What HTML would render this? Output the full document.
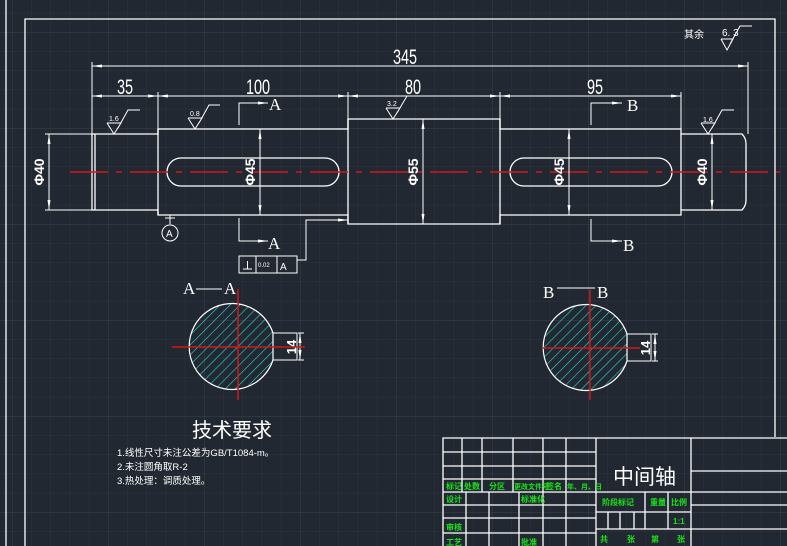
<!DOCTYPE html>
<html><head><meta charset="utf-8">
<style>
html,body{margin:0;padding:0;background:#222831;}
svg{display:block;}
text{font-family:"Liberation Sans","Noto Sans CJK SC",sans-serif;}
.g{fill:#19e619;font-size:8px;font-weight:bold;}
</style></head><body>
<svg width="787" height="546" viewBox="0 0 787 546" xmlns="http://www.w3.org/2000/svg">
<defs>
<pattern id="minor" x="12" y="32" width="19.2" height="19.2" patternUnits="userSpaceOnUse">
<path d="M0 0V19.2M0 0H19.2" stroke="#2c3440" stroke-width="1" fill="none"/>
</pattern>
<pattern id="major" x="12" y="32" width="96" height="96" patternUnits="userSpaceOnUse">
<path d="M0 0V96M0 0H96" stroke="#3a4250" stroke-width="1" fill="none"/>
</pattern>
<pattern id="hatch" width="7" height="7" patternUnits="userSpaceOnUse" patternTransform="rotate(45)">
<line x1="0" y1="0" x2="0" y2="7" stroke="#2ad6d6" stroke-width="1.2"/>
</pattern>
<marker id="ar" markerWidth="10" markerHeight="6" refX="10" refY="3" orient="auto-start-reverse" markerUnits="userSpaceOnUse">
<path d="M0 1.5L10 3L0 4.5Z" fill="#fff"/>
</marker>
</defs>
<rect width="787" height="546" fill="#222831"/>
<rect width="787" height="546" fill="url(#minor)"/>
<rect width="787" height="546" fill="url(#major)"/>

<g stroke="#fff" fill="none" stroke-width="1.3">
<line x1="6" y1="0" x2="6" y2="546"/>
<path d="M25 546V19H775V437"/>
<path d="M92 134H158V129H348V119H500V129H681V134H742Q746 138 746 144V200Q746 206 742 210H681V215H500V224H348V215H158V210H92Z"/>
<line x1="95" y1="134" x2="95" y2="210"/>
<line x1="158" y1="129" x2="158" y2="215"/>
<line x1="681" y1="134" x2="681" y2="210"/>
<line x1="500" y1="119" x2="500" y2="224"/>
<line x1="348" y1="119" x2="348" y2="224"/>
<rect x="167" y="158" width="172" height="28" rx="14"/>
<rect x="510" y="158" width="162" height="28" rx="14"/>
</g>
<line x1="70" y1="172" x2="780" y2="172" stroke="#d01818" stroke-width="1.5" stroke-dasharray="38 8 6 8"/>

<g stroke="#fff" stroke-width="1" fill="none">
<line x1="92" y1="62" x2="92" y2="134"/>
<line x1="748" y1="62" x2="748" y2="134"/>
<line x1="158" y1="92" x2="158" y2="129"/>
<line x1="348" y1="92" x2="348" y2="119"/>
<line x1="500" y1="92" x2="500" y2="119"/>
<line x1="681" y1="92" x2="681" y2="134"/>
<line x1="92" y1="66" x2="748" y2="66" marker-start="url(#ar)" marker-end="url(#ar)"/>
<line x1="92" y1="96" x2="158" y2="96" marker-start="url(#ar)" marker-end="url(#ar)"/>
<line x1="158" y1="96" x2="348" y2="96" marker-start="url(#ar)" marker-end="url(#ar)"/>
<line x1="348" y1="96" x2="500" y2="96" marker-start="url(#ar)" marker-end="url(#ar)"/>
<line x1="500" y1="96" x2="681" y2="96" marker-start="url(#ar)" marker-end="url(#ar)"/>
<line x1="45" y1="134" x2="92" y2="134"/><line x1="45" y1="210" x2="92" y2="210"/>
<line x1="49" y1="134" x2="49" y2="210" marker-start="url(#ar)" marker-end="url(#ar)"/>
<line x1="260" y1="129" x2="260" y2="215" marker-start="url(#ar)" marker-end="url(#ar)"/>
<line x1="423" y1="119" x2="423" y2="224" marker-start="url(#ar)" marker-end="url(#ar)"/>
<line x1="569" y1="129" x2="569" y2="215" marker-start="url(#ar)" marker-end="url(#ar)"/>
<line x1="712" y1="134" x2="712" y2="210" marker-start="url(#ar)" marker-end="url(#ar)"/>
<path d="M239 125V103H268" marker-end="url(#ar)"/>
<path d="M239 218V241H268" marker-end="url(#ar)"/>
<path d="M591 125V103H622" marker-end="url(#ar)"/>
<path d="M591 219V241H622" marker-end="url(#ar)"/>
<line x1="170" y1="215" x2="170" y2="224"/><line x1="165" y1="218" x2="175" y2="218"/>
<circle cx="170" cy="233" r="8"/>
<rect x="239" y="256" width="58" height="17"/>
<line x1="256" y1="256" x2="256" y2="273"/><line x1="277" y1="256" x2="277" y2="273"/>
<path d="M297 260H306V220H348" marker-end="url(#ar)"/>
<path d="M243 269H252M247.5 269V261"/>
<path d="M107 123L114 134L121 123H107M118 128L128 110H140"/>
<path d="M188 118L195 129L202 118H188M199 123L209 105H220"/>
<path d="M386 108L393 119L400 108H386M397 113L407 96"/>
<path d="M701 123L708 134L715 123H701M712 128L722 110H734"/>
<path d="M721 39L727 50L733 39H721M730 44L740 26H752"/>
</g>

<g fill="#fff" font-size="17" text-anchor="middle">
<text transform="translate(405,64) scale(0.85,1.25)">345</text>
<text transform="translate(125,94) scale(0.85,1.25)">35</text>
<text transform="translate(258,94) scale(0.85,1.25)">100</text>
<text transform="translate(413,94) scale(0.85,1.25)">80</text>
<text transform="translate(595,94) scale(0.85,1.25)">95</text>
</g>
<g fill="#fff" font-size="14" font-weight="bold" text-anchor="middle">
<text transform="translate(44,172) rotate(-90)">Φ40</text>
<text transform="translate(255,172) rotate(-90)">Φ45</text>
<text transform="translate(418,172) rotate(-90)">Φ55</text>
<text transform="translate(564,172) rotate(-90)">Φ45</text>
<text transform="translate(707,172) rotate(-90)">Φ40</text>
</g>
<g fill="#fff" font-size="17">
<text x="269" y="110" style="font-family:'Liberation Serif',serif">A</text>
<text x="268" y="249" style="font-family:'Liberation Serif',serif">A</text>
<text x="627" y="111" style="font-family:'Liberation Serif',serif">B</text>
<text x="623" y="251" style="font-family:'Liberation Serif',serif">B</text>
<text x="183" y="294" style="font-family:'Liberation Serif',serif">A</text>
<text x="224" y="294" style="font-family:'Liberation Serif',serif">A</text>
<text x="543" y="298" style="font-family:'Liberation Serif',serif">B</text>
<text x="597" y="298" style="font-family:'Liberation Serif',serif">B</text>
</g>
<g fill="#fff" font-size="7">
<text x="109" y="121">1.6</text>
<text x="190" y="116">0.8</text>
<text x="387" y="106">3.2</text>
<text x="703" y="122">1.6</text>
<text x="258" y="267" font-size="6">0.02</text>
<text x="280" y="270" font-size="10">A</text>
<text x="166" y="237" font-size="10">A</text>
<text x="722" y="36" font-size="10">6. 3</text>
<text x="684" y="38" font-size="10">其余</text>
</g>
<line x1="196" y1="289" x2="222" y2="289" stroke="#fff"/>
<line x1="557" y1="288" x2="595" y2="288" stroke="#fff"/>

<path d="M273 333A43 43 0 1 0 273 360V333Z" fill="url(#hatch)" stroke="#fff" stroke-width="1.2"/>
<path d="M273 333H297V360H273" fill="none" stroke="#fff"/>
<line x1="298" y1="333" x2="304" y2="333" stroke="#fff"/><line x1="298" y1="360" x2="304" y2="360" stroke="#fff"/>
<line x1="300" y1="333" x2="300" y2="360" stroke="#fff" marker-start="url(#ar)" marker-end="url(#ar)"/>
<text transform="translate(296,347) rotate(-90)" fill="#fff" font-size="13" font-weight="bold" text-anchor="middle">14</text>
<g stroke="#d01818" stroke-width="1.5">
<line x1="172" y1="347" x2="305" y2="347"/><line x1="238" y1="289" x2="238" y2="400"/>
</g>
<path d="M627 334A43 43 0 1 0 627 361V334Z" fill="url(#hatch)" stroke="#fff" stroke-width="1.2"/>
<path d="M627 334H651V361H627" fill="none" stroke="#fff"/>
<line x1="652" y1="334" x2="658" y2="334" stroke="#fff"/><line x1="652" y1="361" x2="658" y2="361" stroke="#fff"/>
<line x1="655" y1="334" x2="655" y2="361" stroke="#fff" marker-start="url(#ar)" marker-end="url(#ar)"/>
<text transform="translate(650,348) rotate(-90)" fill="#fff" font-size="13" font-weight="bold" text-anchor="middle">14</text>
<g stroke="#d01818" stroke-width="1.5">
<line x1="542" y1="348" x2="640" y2="348"/><line x1="590" y1="290" x2="590" y2="400"/>
</g>

<text x="192" y="437" fill="#fff" font-size="20" style="font-family:'Noto Sans CJK SC',sans-serif">技术要求</text>
<g fill="#fff" font-size="9.5" style="font-family:'Noto Sans CJK SC',sans-serif">
<text x="117" y="456">1.线性尺寸未注公差为GB/T1084-m。</text>
<text x="117" y="470">2.未注圆角取R-2</text>
<text x="117" y="484">3.热处理：调质处理。</text>
</g>

<g stroke="#fff" stroke-width="1.3" fill="none">
<path d="M443 546V438H787"/>
<line x1="443" y1="452" x2="596" y2="452"/>
<line x1="443" y1="466" x2="596" y2="466"/>
<line x1="443" y1="479" x2="596" y2="479"/>
<line x1="443" y1="492" x2="787" y2="492" />
<line x1="443" y1="505" x2="596" y2="505"/>
<line x1="443" y1="518" x2="596" y2="518"/>
<line x1="443" y1="533" x2="596" y2="533"/>
<line x1="462" y1="438" x2="462" y2="492"/>
<line x1="482" y1="438" x2="482" y2="492"/>
<line x1="513" y1="438" x2="513" y2="492"/>
<line x1="543" y1="438" x2="543" y2="546"/>
<line x1="566" y1="438" x2="566" y2="546"/>
<line x1="596" y1="438" x2="596" y2="546"/>
<line x1="466" y1="492" x2="466" y2="546"/>
<line x1="489" y1="492" x2="489" y2="546"/>
<line x1="519" y1="492" x2="519" y2="546"/>
<line x1="691" y1="438" x2="691" y2="546"/>
<line x1="691" y1="471" x2="787" y2="471"/>
<line x1="691" y1="505" x2="787" y2="505"/>
<line x1="596" y1="512" x2="691" y2="512"/>
<line x1="596" y1="529" x2="787" y2="529"/>
<line x1="645" y1="492" x2="645" y2="529"/>
<line x1="668" y1="492" x2="668" y2="529"/>
<line x1="608" y1="512" x2="608" y2="529"/>
<line x1="620" y1="512" x2="620" y2="529"/>
<line x1="634" y1="512" x2="634" y2="529"/>
</g>
<text x="613" y="484" fill="#fff" font-size="21" style="font-family:'Noto Sans CJK SC',sans-serif">中间轴</text>
<g class="g" style="font-family:'Noto Sans CJK SC',sans-serif">
<text x="446" y="489">标记</text><text x="464" y="489">处数</text><text x="489" y="489">分区</text>
<text x="514" y="489" font-size="7">更改文件号</text><text x="546" y="489">签名</text><text x="567" y="489" font-size="7">年、月、日</text>
<text x="446" y="502">设计</text><text x="521" y="502">标准化</text>
<text x="446" y="530">审核</text><text x="446" y="545">工艺</text><text x="521" y="545">批准</text>
<text x="602" y="505">阶段标记</text><text x="650" y="505">重量</text><text x="671" y="505">比例</text>
<text x="673" y="524">1:1</text>
<text x="600" y="542">共</text><text x="627" y="542">张</text><text x="651" y="542">第</text><text x="677" y="542">张</text>
</g>
</svg>
</body></html>
